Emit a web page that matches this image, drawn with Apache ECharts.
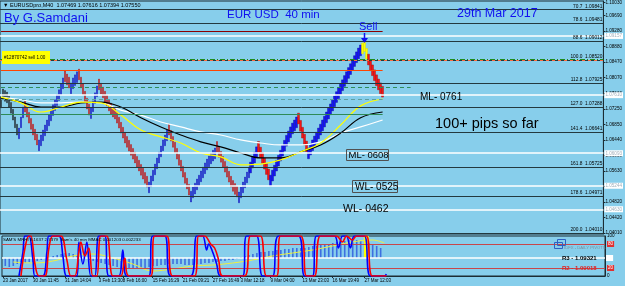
<!DOCTYPE html>
<html>
<head>
<meta charset="utf-8">
<script src="https://cdn.jsdelivr.net/npm/echarts@6.0.0/dist/echarts.min.js"></script>
<style>
  html, body { margin: 0; padding: 0; background: #87CEEB; }
  #chart { width: 625px; height: 286px; }
</style>
</head>
<body>
<div id="chart"></div>
<script>
// EURUSD 40 min, renko style bars
const FONT = '"Liberation Sans", Arial, sans-serif';
const SLOTS = 302;

// closing price of each bar (left to right)
const closes = [
  1.0756, 1.0749, 1.0745, 1.0741,
  1.0730, 1.0714, 1.0696, 1.0676, 1.0657,
  1.0675, 1.0704, 1.0730,
  1.0717, 1.0704, 1.0688, 1.0672, 1.0657, 1.0644, 1.0631,
  1.0644, 1.0657, 1.0670, 1.0683, 1.0696, 1.0709, 1.0722, 1.0736, 1.0749, 1.0762, 1.0775, 1.0790, 1.0806,
  1.0796, 1.0788, 1.0780,
  1.0793, 1.0806, 1.0814, 1.0822,
  1.0801, 1.0780, 1.0762, 1.0743, 1.0725, 1.0709,
  1.0728, 1.0746, 1.0767, 1.0785,
  1.0775, 1.0764, 1.0754, 1.0743, 1.0733, 1.0720, 1.0712, 1.0704, 1.0699, 1.0688, 1.0675, 1.0662, 1.0649,
  1.0636, 1.0625, 1.0615, 1.0604, 1.0594, 1.0584, 1.0573, 1.0563, 1.0552, 1.0542, 1.0531, 1.0521,
  1.0534, 1.0550, 1.0565, 1.0581, 1.0597, 1.0612, 1.0628, 1.0644, 1.0657, 1.0670,
  1.0657, 1.0641, 1.0625, 1.0610, 1.0594, 1.0578, 1.0563, 1.0547, 1.0531, 1.0516, 1.0500,
  1.0510, 1.0521, 1.0531, 1.0542, 1.0552, 1.0563, 1.0573, 1.0584, 1.0594, 1.0602, 1.0610, 1.0617, 1.0623,
  1.0612, 1.0599, 1.0586, 1.0573, 1.0560, 1.0547, 1.0534, 1.0521, 1.0510, 1.0502, 1.0495,
  1.0508, 1.0521, 1.0534, 1.0547, 1.0560, 1.0573, 1.0586, 1.0599, 1.0612, 1.0626,
  1.0612, 1.0597, 1.0583, 1.0568, 1.0554, 1.0540,
  1.0552, 1.0565, 1.0578, 1.0591, 1.0604, 1.0617, 1.0630, 1.0643, 1.0656, 1.0667, 1.0678, 1.0688, 1.0696, 1.0704,
  1.0686, 1.0667, 1.0649, 1.0631, 1.0613,
  1.0623, 1.0633, 1.0644, 1.0654, 1.0664, 1.0675, 1.0685, 1.0696, 1.0706, 1.0717, 1.0727, 1.0738, 1.0748, 1.0759,
  1.0770, 1.0780, 1.0791, 1.0801, 1.0812, 1.0822, 1.0833, 1.0843, 1.0854, 1.0864, 1.0874, 1.0884, 1.0892,
  1.0897, 1.0875, 1.0855,
  1.0840, 1.0825, 1.0812, 1.0799, 1.0786, 1.0775, 1.0765, 1.0756
];
const boxSize = 0.0028;

// moving averages [bar, price]
const maYellow = [[0,1.0756],[10,1.0741],[20,1.0717],[30,1.0730],[40,1.0743],[50,1.0741],[60,1.0709],[70,1.0670],[80,1.0652],[90,1.0636],[100,1.0610],[110,1.0600],[120,1.0579],[130,1.0581],[140,1.0592],[150,1.0613],[160,1.0636],[170,1.0683],[180,1.0733],[191,1.0751]];
const maBlack = [[0,1.0754],[10,1.0743],[20,1.0730],[30,1.0730],[40,1.0741],[50,1.0743],[60,1.0730],[70,1.0702],[80,1.0678],[90,1.0657],[100,1.0639],[110,1.0626],[120,1.0610],[130,1.0597],[140,1.0597],[150,1.0613],[160,1.0631],[170,1.0662],[180,1.0702],[191,1.0717]];
const maWhite = [[0,1.0756],[10,1.0749],[20,1.0741],[30,1.0741],[40,1.0743],[50,1.0741],[60,1.0722],[70,1.0709],[80,1.0691],[90,1.0678],[100,1.0665],[110,1.0657],[120,1.0644],[130,1.0636],[140,1.0631],[150,1.0631],[160,1.0639],[170,1.0662],[180,1.0678],[191,1.0696]];

// right price scale
const priceTicks = [1.10030, 1.09690, 1.09280, 1.08880, 1.08470, 1.08070, 1.07660, 1.07250, 1.06850, 1.06440, 1.06030, 1.05630, 1.05220, 1.04820, 1.04420, 1.04010];

// fibo expansion
const fibLevels = ['70.7', '78.6', '88.6', '100.0', '112.8', '127.0', '141.4', '161.8', '178.6', '200.0'];
const fibPrices = [1.09841, 1.09481, 1.09012, 1.08520, 1.07925, 1.07288, 1.06641, 1.05725, 1.04971, 1.04010];

// white ML / WL lines with their price tags
const whiteLines = [1.09157, 1.07610, 1.06093, 1.05244, 1.04630];

// bottom time scale
const dateIdx = [0, 15, 31, 48, 60, 75, 90, 105, 119, 134, 150, 165, 181];
const dateLabels = ['23 Jan 2017', '30 Jan 11:45', '31 Jan 14:04', '3 Feb 13:30', '8 Feb 16:00', '15 Feb 16:29', '21 Feb 09:21', '27 Feb 16:49', '3 Mar 12:18', '9 Mar 04:00', '13 Mar 23:03', '16 Mar 19:49', '27 Mar 12:03'];

// MMAC histogram, one bar every 2nd slot
const macdHist = [
  -0.00084,-0.00096,-0.00108,-0.00096,-0.00072,-0.0006,-0.0006,-0.00048,-0.00048,-0.00036,
  -0.00024,-0.00012,0.00012,0.00024,0.00036,0.00048,0.0006,0.0006,0.00048,0.00036,
  0.00012,-0.00012,-0.00024,-0.00036,-0.00048,-0.0006,-0.00072,-0.00084,-0.00096,-0.00108,
  -0.0012,-0.0012,-0.00132,-0.00132,-0.00132,-0.0012,-0.0012,-0.00108,-0.00096,-0.00096,
  -0.00084,-0.00084,-0.00072,-0.00072,-0.00072,-0.00072,-0.00084,-0.00084,-0.00084,-0.00072,
  -0.00072,-0.0006,-0.0006,-0.00048,-0.00048,-0.00036,-0.00036,-0.00024,-0.00024,-0.00012,
  0.00012,0.00024,0.00036,0.00048,0.0006,0.00072,0.00072,0.00084,0.00084,0.00096,
  0.00096,0.00108,0.00108,0.0012,0.0012,0.0012,0.0012,0.00132,0.00144,0.00144,
  0.00156,0.00168,0.00168,0.0018,0.00192,0.00192,0.00204,0.00216,0.00216,0.00216,
  0.00204,0.00192,0.0018,0.00168,0.00144,0.0012
];
const macdSignal = [[5,-0.00048],[15,-0.0006],[25,-0.00036],[35,0.00024],[45,0.00048],[55,0],[65,-0.00072],[75,-0.00156],[85,-0.00132],[95,-0.00096],[105,-0.00084],[115,-0.0006],[125,-0.00024],[135,0.00024],[145,0.0006],[155,0.00096],[165,0.00144],[175,0.00192],[185,0.00216],[191,0.0018]];

// MRHI oscillator lines [bar, value]
const oscBlue = [[8,0],[10,60],[11,100],[13,100],[15,40],[16,0],[20,0],[22,60],[23,100],[28,100],[30,50],[32,0],[37,0],[38,85],[40,30],[42,85],[44,0],[46,0],[48,100],[51,100],[53,0],[58,0],[60,65],[62,0],[73,0],[75,100],[81,100],[84,0],[94,0],[97,100],[100,100],[102,65],[103,80],[105,60],[107,30],[109,0],[120,0],[122,100],[127,100],[130,0],[135,0],[138,100],[148,100],[151,0],[155,0],[157,100],[166,100],[168,70],[170,100],[172,100],[174,70],[176,100],[181,100],[184,0],[191,0],[192,5]];
const oscRed = [[9,0],[11,70],[13,100],[14,100],[16,30],[18,0],[21,0],[23,70],[25,100],[29,100],[32,40],[34,0],[36,0],[38,60],[39,85],[41,50],[43,70],[45,0],[47,0],[49,100],[52,100],[55,0],[59,0],[61,45],[63,0],[74,0],[76,100],[82,100],[85,0],[96,0],[98,100],[101,100],[104,80],[106,70],[108,40],[110,0],[121,0],[124,100],[129,100],[132,0],[137,0],[139,100],[149,100],[152,0],[156,0],[159,100],[167,100],[170,85],[172,100],[175,90],[177,100],[182,100],[185,0],[192,0]];
const oscLevels = [80, 20];

const cats = Array.from({ length: SLOTS }, (_, i) => String(i));

const candleData = closes.map((c, i) => {
  const prev = i > 0 ? closes[i - 1] : c;
  const up = c >= prev;
  const open = up ? c - boxSize : c + boxSize;
  let color = up ? '#1414F5' : '#F51414';
  let border = up ? '#0A0A9A' : '#9A0A0A';
  if (i <= 8) { color = '#2F3F4A'; border = '#111'; }
  if (i >= 181 && i <= 183) { color = '#FFFF00'; border = '#D8D800'; }
  return {
    value: [open, c, Math.min(open, c), Math.max(open, c)],
    itemStyle: { color: color, color0: color, borderColor: border, borderColor0: border }
  };
});

const histData = cats.map((_, i) => (i % 2 === 0 && i / 2 < macdHist.length) ? macdHist[i / 2] : null);

// horizontal objects on the price window
const levelLines = [];
fibPrices.forEach((p, k) => {
  levelLines.push({
    yAxis: p,
    lineStyle: { color: '#23393F', width: 1, type: 'solid' },
    label: { show: true, position: 'insideEndTop', formatter: fibLevels[k] + '  ' + p.toFixed(5), fontSize: 4.8, color: '#000', distance: 1, fontFamily: FONT }
  });
});
const seg = (p, to, style) => [
  { coord: ['0', p], lineStyle: style, label: { show: false } },
  { coord: [String(to), p] }
];
levelLines.push(seg(1.0927, 191, { color: '#8B0000', width: 1, type: 'solid' }));
levelLines.push(seg(1.08267, 191, { color: '#FF4500', width: 1, type: 'solid' }));
levelLines.push(seg(1.07823, 205, { color: '#2E8B57', width: 1, type: [4, 3] }));
levelLines.push(seg(1.07511, 191, { color: '#5F9EA0', width: 1, type: [4, 3] }));
levelLines.push(seg(1.07116, 191, { color: '#2E8B57', width: 1, type: 'solid' }));
levelLines.push({ yAxis: 1.0855, lineStyle: { color: '#1E8C1E', width: 1, type: [5, 2, 1, 2] }, label: { show: false } });
levelLines.push({ yAxis: 1.0851, lineStyle: { color: '#FF6A3D', width: 1, type: [3, 3] }, label: { show: false } });
whiteLines.forEach(p => {
  levelLines.push({
    yAxis: p,
    lineStyle: { color: '#FFFFFF', width: 1.6, type: 'solid' },
    label: { show: true, position: 'end', formatter: p.toFixed(5), fontSize: 4.6, color: '#A0B0BC', backgroundColor: '#FFFFFF', padding: [0.5, 1], distance: 1, fontFamily: FONT }
  });
});

const chart = echarts.init(document.getElementById('chart'), null, { renderer: 'canvas' });

const txt = (text, x, y, size, fill, weight) => ({
  type: 'text', z: 100, silent: true,
  style: { text: text, x: x, y: y, fill: fill || '#000', verticalAlign: 'middle', font: (weight || 'normal') + ' ' + size + 'px ' + FONT }
});
const box = (x, y, w, h, stroke, fill) => ({
  type: 'rect', z: 99, silent: true,
  shape: { x: x, y: y, width: w, height: h },
  style: { fill: fill || 'none', stroke: stroke || 'none', lineWidth: 1 }
});

chart.setOption({
  backgroundColor: '#87CEEB',
  animation: false,
  grid: [
    { left: 0, right: 20, top: 1, height: 233, show: true, borderColor: '#1C2C33', borderWidth: 1 },
    { left: 0, right: 20, top: 236, height: 40, show: true, borderColor: '#1C2C33', borderWidth: 1 }
  ],
  xAxis: [
    { type: 'category', gridIndex: 0, data: cats, boundaryGap: true, show: false },
    {
      type: 'category', gridIndex: 1, data: cats, boundaryGap: true,
      axisLine: { lineStyle: { color: '#1C2C33' } },
      axisTick: { show: true, length: 2, alignWithLabel: true, interval: idx => dateIdx.indexOf(idx) >= 0, lineStyle: { color: '#1C2C33' } },
      axisLabel: {
        interval: idx => dateIdx.indexOf(idx) >= 0,
        formatter: (v, idx) => { const k = dateIdx.indexOf(idx); return k >= 0 ? dateLabels[k] : ''; },
        align: 'left', margin: 2, fontSize: 4.5, color: '#000', fontFamily: FONT
      },
      splitLine: { show: false }
    }
  ],
  yAxis: [
    {
      type: 'value', gridIndex: 0, position: 'right', min: 1.03984, max: 1.10069, scale: true,
      axisLine: { show: true, lineStyle: { color: '#1C2C33' } },
      axisTick: { show: true, length: 2, customValues: priceTicks, lineStyle: { color: '#1C2C33' } },
      axisLabel: { customValues: priceTicks, formatter: v => v.toFixed(5), fontSize: 4.6, color: '#000', margin: 2, fontFamily: FONT },
      splitLine: { show: false }
    },
    {
      type: 'value', gridIndex: 1, position: 'right', min: 0, max: 100,
      axisLine: { show: true, lineStyle: { color: '#1C2C33' } },
      axisTick: { show: false },
      axisLabel: {
        customValues: [0, 20, 80, 100],
        formatter: v => (v === 80 || v === 20) ? '{r|' + v + '}' : String(v),
        fontSize: 4.6, color: '#000', margin: 2, fontFamily: FONT,
        rich: { r: { backgroundColor: '#E03030', color: '#fff', fontSize: 4.6, padding: [0.5, 1], fontFamily: FONT } }
      },
      splitLine: { show: false }
    },
    { type: 'value', gridIndex: 1, position: 'right', min: -0.00216, max: 0.00264, show: false, splitLine: { show: false } }
  ],
  series: [
    {
      name: 'levels', type: 'line', xAxisIndex: 0, yAxisIndex: 0, data: [], z: 1, silent: true,
      markLine: { silent: true, symbol: ['none', 'none'], precision: 5, animation: false, data: levelLines }
    },
    {
      name: 'EURUSD', type: 'candlestick', xAxisIndex: 0, yAxisIndex: 0, data: candleData,
      barWidth: 2, z: 3, silent: true,
      itemStyle: { borderWidth: 0.4 }
    },
    { name: 'MA white', type: 'line', xAxisIndex: 0, yAxisIndex: 0, data: maWhite, smooth: 0.4, showSymbol: false, z: 4, silent: true, lineStyle: { color: '#FFFFFF', width: 1.2 } },
    { name: 'MA black', type: 'line', xAxisIndex: 0, yAxisIndex: 0, data: maBlack, smooth: 0.4, showSymbol: false, z: 4, silent: true, lineStyle: { color: '#000000', width: 1.2 } },
    { name: 'MA yellow', type: 'line', xAxisIndex: 0, yAxisIndex: 0, data: maYellow, smooth: 0.4, showSymbol: false, z: 4, silent: true, lineStyle: { color: '#FFFF00', width: 1.2 } },
    {
      name: 'MMAC', type: 'bar', xAxisIndex: 1, yAxisIndex: 2, data: histData, barWidth: 1.6, z: 2, silent: true,
      itemStyle: { color: '#3D6FE0' },
      markLine: {
        silent: true, symbol: ['none', 'none'], precision: 6, animation: false,
        data: [{ yAxis: 0, lineStyle: { color: '#FFFFFF', width: 1.6, type: 'solid' },
          label: { show: true, position: 'end', formatter: ' ', backgroundColor: '#FFFFFF', padding: [1, 3], distance: 1, fontSize: 4 } }]
      }
    },
    {
      name: 'sell bar', type: 'bar', xAxisIndex: 1, yAxisIndex: 2, barWidth: 5, barGap: '-100%', z: 3, silent: true,
      data: cats.map((_, i) => i === 182 ? 0.00262 : null), itemStyle: { color: '#FFFF00' }
    },
    { name: 'signal', type: 'line', xAxisIndex: 1, yAxisIndex: 2, data: macdSignal, smooth: 0.4, showSymbol: false, z: 4, silent: true, lineStyle: { color: '#F0F040', width: 1 } },
    {
      name: 'MRHI blue', type: 'line', xAxisIndex: 1, yAxisIndex: 1, data: oscBlue, smooth: 0.35, showSymbol: false, z: 5, silent: true,
      lineStyle: { color: '#0000FF', width: 1.6 },
      markLine: {
        silent: true, symbol: ['none', 'none'], animation: false,
        data: oscLevels.map(v => ({ yAxis: v, lineStyle: { color: '#C8464A', width: 1, type: 'solid' }, label: { show: false } }))
      }
    },
    { name: 'MRHI red', type: 'line', xAxisIndex: 1, yAxisIndex: 1, data: oscRed, smooth: 0.35, showSymbol: false, z: 6, silent: true, lineStyle: { color: '#FF0000', width: 1.6 } }
  ],
  graphic: [
    txt('\u25BC EURUSDpro,M40  1.07469 1.07616 1.07394 1.07550', 3, 5, 5.5, '#000'),
    txt('By G.Samdani', 4, 18, 13, '#1010F0'),
    txt('EUR USD  40 min', 227, 15, 11.5, '#1010F0'),
    txt('29th Mar 2017', 457, 14, 12.5, '#1010F0'),
    txt('Sell', 359, 27, 11, '#1010F0'),
    { type: 'line', z: 100, silent: true, shape: { x1: 364.5, y1: 33, x2: 364.5, y2: 39 }, style: { stroke: '#1010F0', lineWidth: 1.5 } },
    { type: 'polygon', z: 100, silent: true, shape: { points: [[361, 38], [368, 38], [364.5, 43]] }, style: { fill: '#1010F0' } },
    box(2, 51, 48, 13, null, '#FFFF00'),
    txt('#12870742 sell 1.00', 4, 57.5, 4.6, '#000'),
    txt('ML- 0761', 420, 97, 10, '#000'),
    txt('100+ pips so far', 435, 124, 14.5, '#000'),
    box(346.5, 149.5, 42, 11, '#505050'),
    txt('ML- 0608', 348.5, 155.5, 9.5, '#000'),
    box(352.5, 180.5, 45, 12, '#505050'),
    txt('WL- 0525', 355, 187, 10, '#000'),
    txt('WL- 0462', 343, 209.5, 10.5, '#000'),
    txt("SAM'S MRHI 8.1637 2.7379  Sam's 40 min MMAC 0.001203 0.002233", 3, 240, 4.4, '#000'),
    box(554.5, 242.5, 8, 6, '#3060C0'),
    box(557.5, 239.5, 8, 6, '#3060C0'),
    txt('IDFX - DAILY PIVOTS', 564, 248, 4.2, '#7890A0'),
    txt('R3 - 1.09321', 562, 258.5, 6, '#000', 'bold'),
    txt('R2 - 1.09018', 562, 268, 6, '#E02020', 'bold')
  ]
});
</script>
</body>
</html>
